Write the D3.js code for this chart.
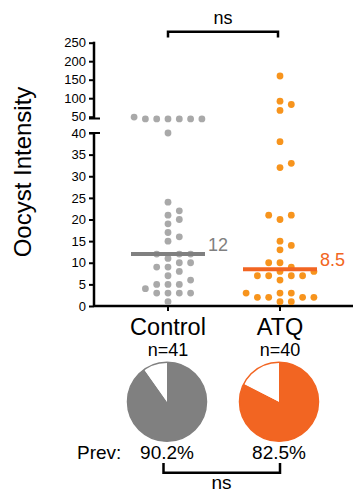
<!DOCTYPE html>
<html><head><meta charset="utf-8">
<script src="https://cdn.jsdelivr.net/npm/d3@7"></script>
<style>body{margin:0;background:#fff;} svg{display:block;font-family:"Liberation Sans",Arial,Helvetica,sans-serif;}</style>
</head><body><svg id="c" width="353" height="496"></svg>
<script>
const categories = ["Control", "ATQ"];
const controlValues = [49,44,44,44,44,44,44,40,24,22,21,20,19,17,16,15,12,12,12,11,10,10,9,9,8,7,6,5,5,5,4,3,3,3,3,1];
const atqValues = [160,92,83,67,38,33,32,21,21,20,15,14,13,10,10,9,8,8,7,7,7,7,6,3,3,3,2,2,2,2,1,1];
const medians = [12, 8.5];
const medianLabels = ["12", "8.5"];
const nLabels = ["n=41", "n=40"];
const prevalence = [90.2, 82.5];
const prevLabels = ["90.2%", "82.5%"];
const lowerTicks = [0,5,10,15,20,25,30,35,40];
const upperTicks = [50,100,150,200,250];
const sigLabel = "ns";

const dotColors = ["#a9a9a9", "#f7941d"];
const lineColors = ["#808080", "#f26522"];

const svg = d3.select("#c");
const axisX = 94;
const yLow = d3.scaleLinear().domain([0, 40]).range([306, 133]);
const yUp = d3.scaleLinear().domain([50, 250]).range([116.7, 42.7]);
const yPos = v => v > 40 ? yUp(v) : yLow(v);
const x = d3.scalePoint().domain(categories).range([168, 280]);

// axes
const gUp = svg.append("g").attr("transform", `translate(${axisX},0)`)
  .call(d3.axisLeft(yUp).tickValues(upperTicks).tickSize(5).tickPadding(3));
const gLow = svg.append("g").attr("transform", `translate(${axisX},0)`)
  .call(d3.axisLeft(yLow).tickValues(lowerTicks).tickSize(5).tickPadding(3));
[gUp, gLow].forEach(g => {
  g.select(".domain").remove();
  g.selectAll(".tick line").attr("stroke", "#000").attr("stroke-width", 2);
  g.selectAll(".tick text").attr("font-size", 13).attr("fill", "#000")
    .attr("font-family", "Liberation Sans, Arial, sans-serif");
});
const ax = svg.append("g").attr("stroke", "#000").attr("fill", "none");
ax.append("line").attr("x1", axisX).attr("x2", axisX).attr("y1", yUp(250) - 1).attr("y2", 118.5).attr("stroke-width", 2.5);
ax.append("line").attr("x1", axisX - 5).attr("x2", axisX + 6).attr("y1", 118.5).attr("y2", 118.5).attr("stroke-width", 2);
ax.append("line").attr("x1", axisX).attr("x2", axisX).attr("y1", yLow(40)).attr("y2", yLow(0)).attr("stroke-width", 2.5);
ax.append("line").attr("x1", axisX - 5).attr("x2", axisX + 6).attr("y1", yLow(40)).attr("y2", yLow(40)).attr("stroke-width", 2);
// x axis
ax.append("line").attr("x1", axisX).attr("x2", 353).attr("y1", yLow(0)).attr("y2", yLow(0)).attr("stroke-width", 2.5);
categories.forEach(c => {
  ax.append("line").attr("x1", x(c)).attr("x2", x(c)).attr("y1", yLow(0)).attr("y2", yLow(0) + 5).attr("stroke-width", 2);
});

// y label
svg.append("text").attr("transform", "translate(31,172) rotate(-90)")
  .attr("text-anchor", "middle").attr("font-size", 24).text("Oocyst Intensity");

// beeswarm
const spacing = 11.3, minGap = 8;
function swarm(values, cx) {
  const pts = values.map(v => ({v, y: yPos(v)})).sort((a, b) => b.y - a.y);
  const cols = new Map();
  const order = [0];
  for (let k = 1; k < 10; k++) { order.push(k, -k); }
  pts.forEach(p => {
    for (const o of order) {
      const arr = cols.get(o) || [];
      if (arr.every(y => Math.abs(y - p.y) >= minGap)) {
        arr.push(p.y); cols.set(o, arr); p.x = cx + o * spacing; break;
      }
    }
  });
  return pts;
}
const groups = [controlValues, atqValues];
groups.forEach((vals, i) => {
  const pts = swarm(vals, x(categories[i]));
  svg.append("g").selectAll("circle").data(pts).join("circle")
    .attr("cx", d => d.x).attr("cy", d => d.y).attr("r", 3.4).attr("fill", dotColors[i]);
});

// medians
categories.forEach((c, i) => {
  svg.append("line").attr("x1", x(c) - 37).attr("x2", x(c) + 37)
    .attr("y1", yLow(medians[i])).attr("y2", yLow(medians[i]))
    .attr("stroke", lineColors[i]).attr("stroke-width", 4);
  svg.append("text").attr("x", x(c) + 40).attr("y", yLow(medians[i]) - 3)
    .attr("font-size", 18).attr("fill", lineColors[i]).text(medianLabels[i]);
});

// category labels
categories.forEach((c, i) => {
  svg.append("text").attr("x", x(c)).attr("y", 334.5).attr("text-anchor", "middle")
    .attr("font-size", 23.5).text(c);
  svg.append("text").attr("x", x(c)).attr("y", 356).attr("text-anchor", "middle")
    .attr("font-size", 18).text(nLabels[i]);
});

// pies
const pie = d3.pie().sort(null);
const arc = d3.arc().innerRadius(0).outerRadius(39.5);
categories.forEach((c, i) => {
  const g = svg.append("g").attr("transform", `translate(${x(c) - 1},401.7)`);
  g.selectAll("path").data(pie([prevalence[i], 100 - prevalence[i]])).join("path")
    .attr("d", arc).attr("fill", (d, j) => j === 0 ? lineColors[i] : "#fff");
  g.append("circle").attr("r", 39.5).attr("fill", "none").attr("stroke", lineColors[i]).attr("stroke-width", 1.5);
  svg.append("text").attr("x", x(c) - 1).attr("y", 459).attr("text-anchor", "middle")
    .attr("font-size", 19).text(prevLabels[i]);
});
svg.append("text").attr("x", 77).attr("y", 459).attr("font-size", 19).text("Prev:");

// brackets
svg.append("path").attr("d", `M${x("Control")},37.5V31.7H${x("ATQ") - 2}V37.5`)
  .attr("fill", "none").attr("stroke", "#000").attr("stroke-width", 2.5);
svg.append("text").attr("x", 223).attr("y", 23.5).attr("text-anchor", "middle").attr("font-size", 18).text(sigLabel);
svg.append("path").attr("d", `M${x("Control") - 4.5},463V472.7H${x("ATQ")}V463`)
  .attr("fill", "none").attr("stroke", "#000").attr("stroke-width", 2.5);
svg.append("text").attr("x", 221.5).attr("y", 489).attr("text-anchor", "middle").attr("font-size", 19).text(sigLabel);
</script></body></html>
